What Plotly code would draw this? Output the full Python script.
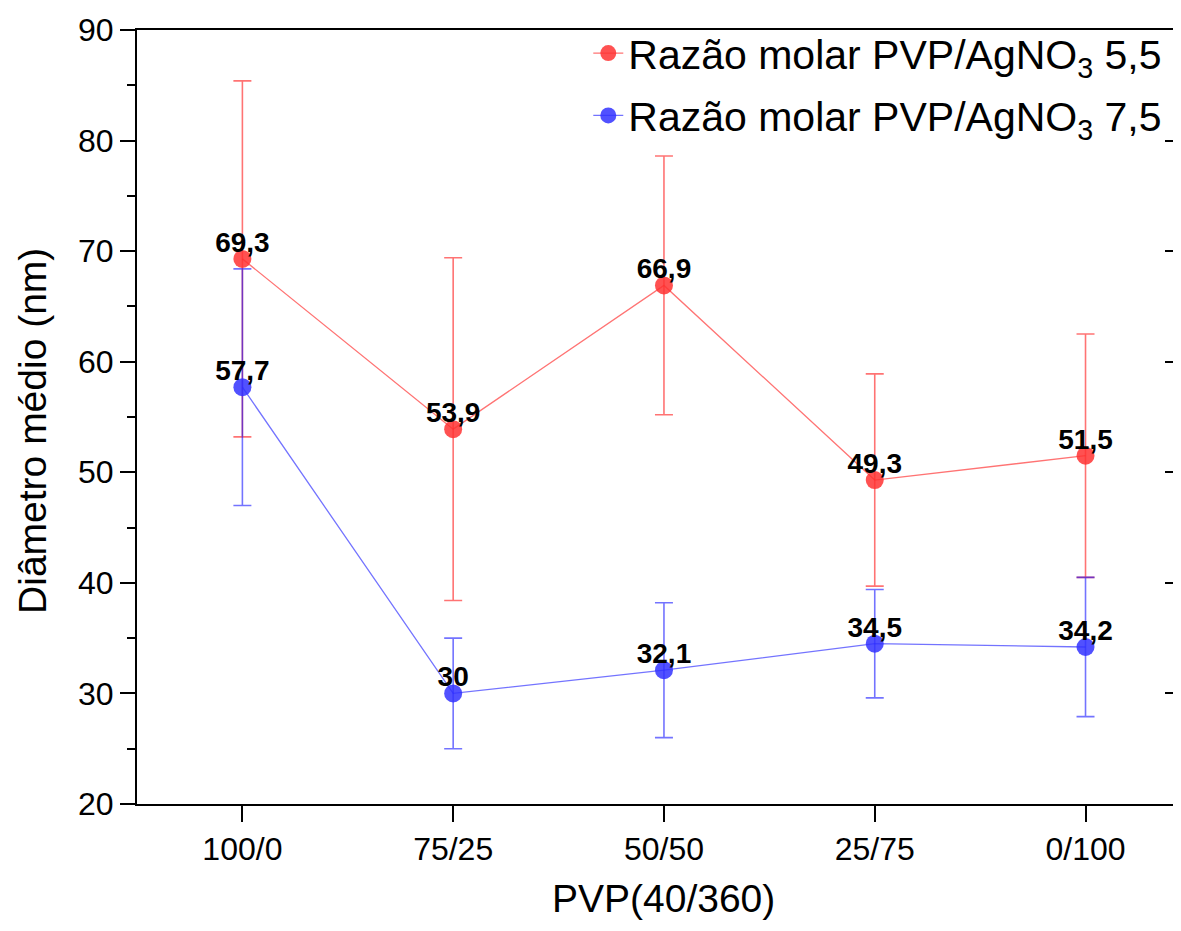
import plotly.graph_objects as go

categories = ["100/0", "75/25", "50/50", "25/75", "0/100"]
red_values = [69.3, 53.9, 66.9, 49.3, 51.5]
red_errors = [16.1, 15.5, 11.7, 9.6, 11.0]
blue_values = [57.7, 30.0, 32.1, 34.5, 34.2]
blue_errors = [10.7, 5.0, 6.1, 4.9, 6.3]
series_names = ["Razão molar PVP/AgNO<sub>3</sub> 5,5", "Razão molar PVP/AgNO<sub>3</sub> 7,5"]
y_ticks = [20, 30, 40, 50, 60, 70, 80, 90]
x_title = "PVP(40/360)"
y_title = "Diâmetro médio (nm)"

FONT = "Liberation Sans, Arial, sans-serif"


def fmt(v):
    return f"{v:g}".replace(".", ",")


xs = list(range(len(categories)))

fig = go.Figure()

specs = [
    (red_values, red_errors, series_names[0], "rgba(255,50,50,0.85)", "rgba(255,0,0,0.55)", "r"),
    (blue_values, blue_errors, series_names[1], "rgba(50,50,255,0.85)", "rgba(0,0,255,0.55)", "b"),
]
for vals, errs, name, mcol, lcol, grp in specs:
    fig.add_trace(go.Scatter(
        x=xs, y=vals, name=name, legendgroup=grp,
        mode="lines+markers",
        line=dict(color=lcol, width=1.3),
        marker=dict(color=mcol, size=18),
        error_y=dict(type="data", array=errs, visible=True, color=lcol,
                     thickness=1.6, width=9),
        cliponaxis=False,
    ))

# data labels drawn on top of everything
for vals, _, _, _, _, grp in specs:
    fig.add_trace(go.Scatter(
        x=xs, y=vals, mode="text", showlegend=False, legendgroup=grp,
        text=[fmt(v) for v in vals],
        textposition="top center",
        textfont=dict(family=FONT, size=28, color="black", weight="bold"),
        cliponaxis=False, hoverinfo="skip",
    ))

# right-side inner ticks (no right axis line)
fig.add_trace(go.Scatter(x=[None], y=[None], yaxis="y2", showlegend=False,
                         hoverinfo="skip"))

fig.update_layout(
    width=1165, height=915,
    margin=dict(l=129, r=0, t=22, b=119, autoexpand=False),
    paper_bgcolor="white", plot_bgcolor="white",
    font=dict(family=FONT, color="black"),
    showlegend=True,
    legend=dict(
        x=0.4356, y=1.013, xanchor="left", yanchor="top",
        bgcolor="rgba(0,0,0,0)",
        font=dict(family=FONT, size=41, color="black"),
        tracegroupgap=6, itemsizing="trace",
    ),
    xaxis=dict(
        range=[-0.5, 4.415],
        tickmode="array", tickvals=xs, ticktext=categories,
        ticks="outside", ticklen=16, tickwidth=2, tickcolor="black",
        showline=True, linecolor="black", linewidth=2, mirror=True,
        showgrid=False, zeroline=False,
        tickfont=dict(family=FONT, size=32, color="black"),
    ),
    yaxis=dict(
        range=[20, 90],
        tickmode="array", tickvals=y_ticks,
        ticks="outside", ticklen=15, tickwidth=2, tickcolor="black",
        minor=dict(ticks="outside", ticklen=8, tickwidth=2, tickcolor="black",
                   dtick=5, tick0=25, showgrid=False),
        showline=True, linecolor="black", linewidth=2,
        showgrid=False, zeroline=False,
        tickfont=dict(family=FONT, size=32, color="black"),
    ),
    yaxis2=dict(
        overlaying="y", side="right", range=[20, 90],
        tickmode="array", tickvals=y_ticks,
        ticks="inside", ticklen=8, tickwidth=2, tickcolor="black",
        showticklabels=False, showline=False, showgrid=False, zeroline=False,
    ),
    annotations=[
        dict(text=x_title, xref="paper", yref="paper", x=0.508, y=-0.1227,
             xanchor="center", yanchor="middle", showarrow=False,
             font=dict(family=FONT, size=39, color="black")),
        dict(text=y_title, xref="paper", yref="paper", x=-0.1004, y=0.482,
             xanchor="center", yanchor="middle", showarrow=False, textangle=-90,
             font=dict(family=FONT, size=39, color="black")),
    ],
)

fig.write_html("out.html")
